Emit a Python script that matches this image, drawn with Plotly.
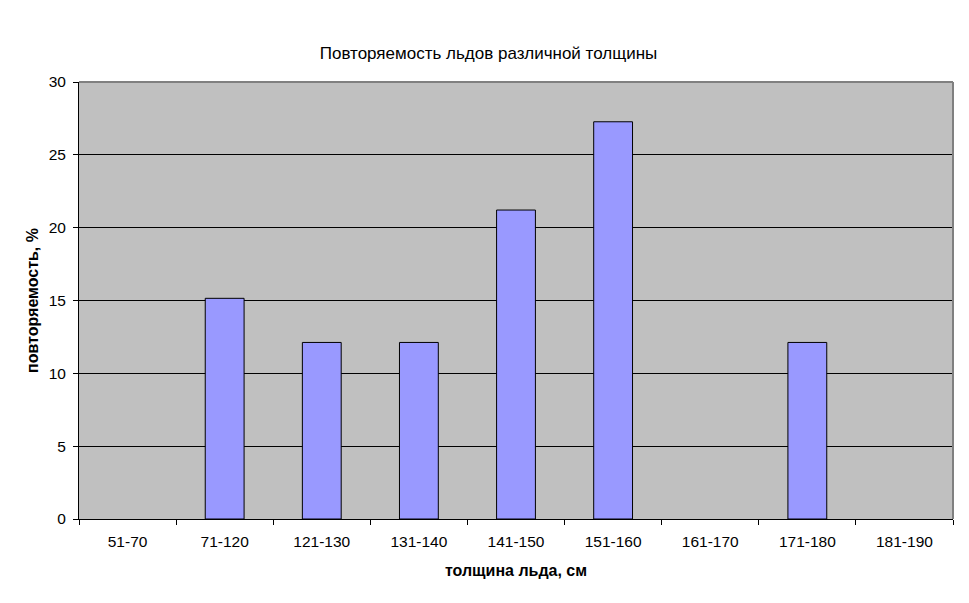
import plotly.graph_objects as go

categories = ["51-70", "71-120", "121-130", "131-140", "141-150", "151-160", "161-170", "171-180", "181-190"]
values = [0, 15.15, 12.12, 12.12, 21.21, 27.27, 0, 12.12, 0]

title_text = "Повторяемость льдов различной толщины"
x_title = "толщина льда, см"
y_title = "повторяемость, %"

font_family = "Liberation Sans, Arial, sans-serif"

# page body has an 8px margin; figure coordinates are offset accordingly
W, H = 961, 595

fig = go.Figure()
fig.add_trace(go.Bar(
    x=categories, y=values, width=0.4,
    marker=dict(color="#9999FF",
                line=dict(color="black", width=[1 if v > 0 else 0 for v in values])),
))

fig.update_layout(
    width=W, height=H,
    margin=dict(l=71, r=16, t=74, b=84),
    paper_bgcolor="white",
    plot_bgcolor="#C0C0C0",
    showlegend=False,
    font=dict(family=font_family, size=15.5, color="black"),
    title=dict(text=title_text, x=0.5, xanchor="center", y=1 - 45 / H, yanchor="middle",
               font=dict(family=font_family, size=17, color="black")),
)
fig.update_xaxes(
    type="category", tickson="boundaries", ticks="outside", ticklen=5, tickcolor="black",
    showline=True, linecolor="black", linewidth=1, showgrid=False,
    tickfont=dict(size=15.5), ticklabelstandoff=8,
    title=dict(text="<b>" + x_title + "</b>", font=dict(size=16), standoff=16),
)
fig.update_yaxes(
    range=[0, 30], dtick=5, ticks="outside", ticklen=5, tickcolor="black",
    showline=True, linecolor="black", linewidth=1,
    showgrid=True, gridcolor="black", gridwidth=1, zeroline=False,
    tickfont=dict(size=15.5), ticklabelstandoff=4,
    title=dict(text="<b>" + y_title + "</b>", font=dict(size=16), standoff=6),
)
fig.add_shape(type="line", xref="paper", yref="paper", x0=0, x1=1, y0=1, y1=1,
              line=dict(color="#808080", width=2), layer="above")
fig.add_shape(type="line", xref="paper", yref="paper", x0=1, x1=1, y0=0, y1=1,
              line=dict(color="#808080", width=2), layer="above")

fig.write_html("out.html")
